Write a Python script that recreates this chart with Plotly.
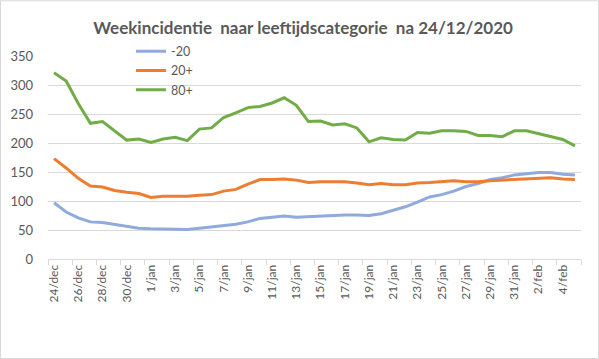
import plotly.graph_objects as go

days = ["24/dec", "25/dec", "26/dec", "27/dec", "28/dec", "29/dec", "30/dec", "31/dec"] + \
       [f"{d}/jan" for d in range(1, 32)] + [f"{d}/feb" for d in range(1, 6)]

minus20 = [97, 81, 71, 64, 63, 60, 57, 53, 52, 52, 52, 51,
           53, 55, 57, 60, 64, 70, 72, 74, 72, 73, 75, 76,
           76, 76, 75, 78, 84, 90, 98, 107, 111, 117, 125, 130,
           137, 140, 145, 147, 149, 149, 146, 145]
plus20 = [173, 157, 139, 126, 124, 118, 115, 113, 106, 108, 108, 108,
          110, 111, 117, 120, 129, 137, 137, 138, 136, 132, 133, 133,
          133, 131, 128, 130, 128, 128, 131, 132, 133, 135, 133, 133,
          135, 136, 138, 138, 140, 140, 138, 137]
plus80 = [321, 307, 268, 234, 237, 221, 205, 207, 201, 207, 210, 204,
          224, 226, 244, 252, 261, 263, 269, 278, 265, 237, 238, 231,
          233, 226, 202, 209, 206, 205, 218, 217, 221, 221, 220, 213,
          213, 211, 221, 221, 216, 210, 206, 195]

series = [("-20", minus20, "#8FAADC"), ("20+", plus20, "#ED7D31"), ("80+", plus80, "#70AD47")]

x = list(range(len(days)))
fig = go.Figure()
for name, vals, col in series:
    fig.add_trace(go.Scatter(x=x, y=vals, name=name, mode="lines",
                             line=dict(color=col, width=3)))

tickvals = x[::2]
ticktext = days[::2]

fig.update_layout(
    width=599, height=359,
    margin=dict(l=48, r=18, t=56, b=100),
    paper_bgcolor="white", plot_bgcolor="white",
    font=dict(family="Lato, Carlito, Liberation Sans, sans-serif", color="#595959", size=13),
    title=dict(text="<b>Weekincidentie  naar leeftijdscategorie  na 24/12/2020</b>",
               x=0.506, xanchor="center", y=0.922, yanchor="middle",
               font=dict(size=17, color="#595959")),
    showlegend=True,
    legend=dict(x=0.1557, y=1.095, xanchor="left", yanchor="top",
                bgcolor="rgba(0,0,0,0)", font=dict(size=12.5, color="#595959"),
                tracegroupgap=0, itemwidth=30),
    xaxis=dict(range=[-0.5, len(days) - 0.5], tickmode="array", tickvals=tickvals,
               ticktext=ticktext, tickangle=-90, ticks="", showgrid=False,
               showline=True, linecolor="#d9d9d9", linewidth=1, zeroline=False,
               automargin=False,
               tickfont=dict(size=12, color="#595959"),
               minor=dict(tickmode="linear", tick0=-0.5, dtick=2, ticks="outside",
                          ticklen=5, tickcolor="#d9d9d9", showgrid=False)),
    yaxis=dict(range=[0, 350], tickmode="linear", tick0=0, dtick=50,
               showgrid=True, gridcolor="#d9d9d9", gridwidth=1, zeroline=False,
               showline=False, ticks="", ticklabelstandoff=14, automargin=False,
               tickfont=dict(size=13, color="#595959")),
    shapes=[dict(type="rect", xref="paper", yref="paper",
                 x0=-47.5 / 533, x1=550.5 / 533, y0=-99.5 / 203, y1=258.2 / 203,
                 line=dict(color="#d9d9d9", width=1), fillcolor="rgba(0,0,0,0)")],
)

fig.write_html("out.html", config={"displayModeBar": False},
               post_script="document.body.style.margin='0';document.body.style.padding='0';")
